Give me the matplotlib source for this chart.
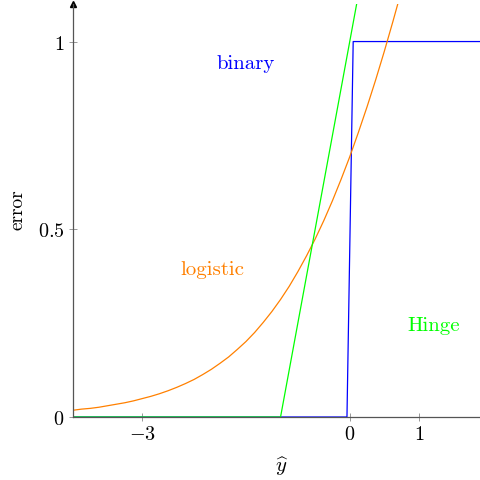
import matplotlib
matplotlib.use("Agg")
import matplotlib.pyplot as plt

plt.rcParams['font.family'] = 'serif'
plt.rcParams['font.serif'] = ['cmr10', 'DejaVu Serif']
plt.rcParams['mathtext.fontset'] = 'cm'
plt.rcParams['axes.unicode_minus'] = False

# Data
logistic_x = [-4, -3.875, -3.75, -3.625, -3.5, -3.375, -3.25, -3.125, -3,
              -2.875, -2.75, -2.625, -2.5, -2.375, -2.25, -2.125, -2,
              -1.875, -1.75, -1.625, -1.5, -1.375, -1.25, -1.125, -1,
              -0.875, -0.75, -0.625, -0.5, -0.375, -0.25, -0.125, 0,
              0.125, 0.25, 0.375, 0.5, 0.625, 0.75]
logistic_y = [0.018, 0.021, 0.023, 0.026, 0.030, 0.034, 0.038, 0.043, 0.049,
              0.055, 0.062, 0.070, 0.079, 0.089, 0.100, 0.113, 0.127,
              0.143, 0.160, 0.180, 0.201, 0.225, 0.252, 0.281, 0.313,
              0.348, 0.387, 0.429, 0.474, 0.523, 0.576, 0.633, 0.693,
              0.758, 0.826, 0.898, 0.974, 1.054, 1.137]
hinge_x = [-4, -1, 0.1]
hinge_y = [0, 0, 1.1]
binary_x = [-4, -0.04, 0.05, 2]
binary_y = [0, 0, 1, 1]
xticks = [-3, 0, 1]
xtick_labels = ['$-3$', '$0$', '$1$']
yticks = [0, 0.5, 1]
ytick_labels = ['$0$', '$0.5$', '$1$']

fig = plt.figure(figsize=(4.81, 4.81), dpi=100)
ax = fig.add_axes([73/481, 63/481, (481-73)/481, (418-5)/481])

ax.plot(binary_x, binary_y, color='#0000ff', lw=0.9)
ax.plot(logistic_x, logistic_y, color='#ff8000', lw=0.9)
ax.plot(hinge_x, hinge_y, color='#00ff00', lw=0.9)

ax.set_xlim(-4, (481-349.7)/69.2)
ax.set_ylim(0, 1.1)

axc = '#555555'
for s in ['top', 'right']:
    ax.spines[s].set_visible(False)
for s in ['left', 'bottom']:
    ax.spines[s].set_color(axc)
    ax.spines[s].set_linewidth(0.9)

ax.set_xticks(xticks)
ax.set_xticklabels(xtick_labels)
ax.set_yticks(yticks)
ax.set_yticklabels(ytick_labels)
ax.tick_params(direction='inout', length=6, width=0.6, color='#888888',
               labelsize=14.5, pad=3)

ax.plot([0], [1], marker='^', color='black', markersize=4,
        transform=ax.transAxes, clip_on=False)

ax.text(-1.5, 0.944, 'binary', color='#0000ff', fontsize=15,
        ha='center', va='center', family='cmr10')
ax.text(-1.99, 0.394, 'logistic', color='#ff8000', fontsize=15,
        ha='center', va='center', family='cmr10')
ax.text(1.21, 0.245, 'Hinge', color='#00ff00', fontsize=15,
        ha='center', va='center', family='cmr10')

fig.text(282/481, 1-467/481, r'$\widehat{y}$', fontsize=15, ha='center', va='center')
fig.text(18/481, 1-210/481, 'error', fontsize=14, rotation=90,
         ha='center', va='center', family='cmr10')

fig.savefig('out.png', dpi=100)
